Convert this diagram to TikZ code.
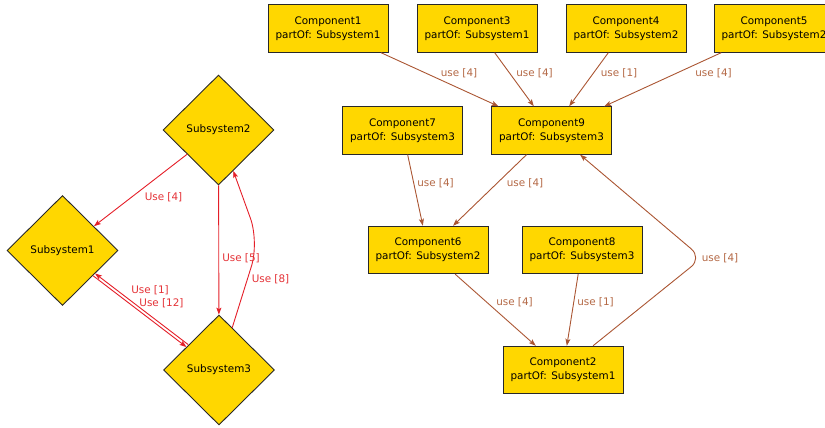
\documentclass[tikz,border=0pt]{standalone}
\usepackage{fontspec}
\setmainfont{DejaVu Sans}
\usetikzlibrary{shapes.geometric,arrows.meta}
\definecolor{boxfill}{RGB}{255,215,0}
\definecolor{boxline}{RGB}{40,40,40}
\definecolor{useline}{RGB}{170,85,50}
\definecolor{uselabel}{RGB}{180,105,70}
\definecolor{redline}{RGB}{228,30,40}
\definecolor{redlabel}{RGB}{228,50,55}

\begin{document}
\begin{tikzpicture}[x=1pt,y=-1pt,
  font=\fontsize{10.4}{13.8}\selectfont,
  comp/.style={draw=boxline,fill=boxfill,minimum width=120pt,minimum height=47.5pt,
    inner sep=0pt,align=center,line width=0.9pt},
  subsys/.style={diamond,draw=boxline,fill=boxfill,minimum width=111pt,
    minimum height=110pt,inner sep=0pt,line width=0.9pt},
  uselink/.style={draw=useline,line width=0.9pt,
    -{Stealth[length=7pt,width=5pt,inset=1.5pt]}},
  redlink/.style={draw=redline,line width=0.9pt,
    -{Stealth[length=7pt,width=5pt,inset=1.5pt]}},
  ulbl/.style={text=uselabel,inner sep=0pt},
  rlbl/.style={text=redlabel,inner sep=0pt}]
\useasboundingbox (0,0) rectangle (825,428);
\clip (0,0) rectangle (825,428);

% subsystems
\node[subsys] (s2) at (218.5,130) {Subsystem2};
\node[subsys] (s1) at (62.5,250.5) {Subsystem1};
\node[subsys] (s3) at (219,370) {Subsystem3};

% components
\node[comp] (c1) at (328,28.5) {Component1\\partOf: Subsystem1};
\node[comp] (c3) at (477,28.5) {Component3\\partOf: Subsystem1};
\node[comp] (c4) at (626,28.5) {Component4\\partOf: Subsystem2};
\node[comp] (c5) at (774,28.5) {Component5\\partOf: Subsystem2};
\node[comp] (c7) at (402.5,130.5) {Component7\\partOf: Subsystem3};
\node[comp] (c9) at (551.5,130.5) {Component9\\partOf: Subsystem3};
\node[comp] (c6) at (428,250) {Component6\\partOf: Subsystem2};
\node[comp] (c8) at (582,250) {Component8\\partOf: Subsystem3};
\node[comp] (c2) at (563,370) {Component2\\partOf: Subsystem1};

% component usage
\draw[uselink] (c1) -- (c9);
\draw[uselink] (c3) -- (c9);
\draw[uselink] (c4) -- (c9);
\draw[uselink] (c5) -- (c9);
\draw[uselink] (c7) -- (c6);
\draw[uselink] (c9) -- (c6);
\draw[uselink] (c6) -- (c2);
\draw[uselink] (c8) -- (c2);
\coordinate (bendA) at (702,258);
\draw[uselink,rounded corners=14pt] (c2) -- (bendA) -- (c9);

\node[ulbl] (u1) at (459,73) {use [4]};
\node[ulbl] (u2) at (534.5,73) {use [4]};
\node[ulbl] (u3) at (619,73) {use [1]};
\node[ulbl] (u4) at (713.5,73) {use [4]};
\node[ulbl] (u5) at (435.5,183) {use [4]};
\node[ulbl] (u6) at (525,183) {use [4]};
\node[ulbl] (u7) at (720,258) {use [4]};
\node[ulbl] (u8) at (514.5,302.5) {use [4]};
\node[ulbl] (u9) at (595.5,302.5) {use [1]};

% subsystem usage
\draw[redlink] (s2) -- (s1);
\draw[redlink] (s2) -- (s3);
\coordinate (bendB) at (259,242);
\draw[redlink,rounded corners=25pt] (s3) -- (bendB) -- (s2);
\draw[redlink,transform canvas={xshift=-0.9pt,yshift=-1.2pt}] (s1) -- (s3);
\draw[redlink,transform canvas={xshift=0.9pt,yshift=1.2pt}] (s3) -- (s1);

\node[rlbl] (r1) at (163.5,197) {Use [4]};
\node[rlbl] (r2) at (241,258) {Use [5]};
\node[rlbl] (r3) at (270.5,279) {Use [8]};
\node[rlbl] (r4) at (150,290) {Use [1]};
\node[rlbl] (r5) at (161.5,303) {Use [12]};
\end{tikzpicture}
\end{document}
